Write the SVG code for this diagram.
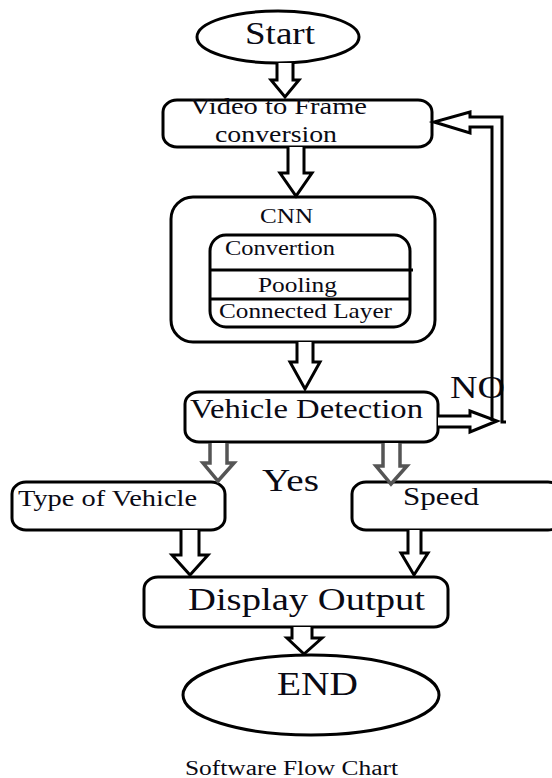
<svg xmlns="http://www.w3.org/2000/svg" width="552" height="778" viewBox="0 0 552 778">
<style>
.box{fill:#fff;stroke:#000;stroke-width:3}
.t{font-family:"Liberation Serif","Times New Roman",serif;fill:#0a0a14}
.arr{fill:#fff;stroke:#000;stroke-width:3;stroke-linejoin:miter}
.garr{fill:#fff;stroke:#555;stroke-width:3.5;stroke-linejoin:miter}
.ln{fill:none;stroke:#000;stroke-width:3}
</style>
<rect width="552" height="778" fill="#fff"/>
<g id="start">
<ellipse class="box" cx="278" cy="37" rx="81" ry="26"/>
<text class="t" transform="translate(245,44) scale(1.19,1)" font-size="31" textLength="58.8" lengthAdjust="spacingAndGlyphs">Start</text>
</g>
<g id="video">
<rect class="box" x="163" y="100" width="269" height="47" rx="14" ry="12"/>
<text class="t" transform="translate(190,114) scale(1.175,1)" font-size="24" textLength="150.6" lengthAdjust="spacingAndGlyphs">Video to Frame</text>
<text class="t" transform="translate(215,142) scale(1.16,1)" font-size="24" textLength="105.2" lengthAdjust="spacingAndGlyphs">conversion</text>
</g>
<g id="cnn">
<rect class="box" x="171" y="197" width="264" height="145" rx="22" ry="22"/>
<text class="t" transform="translate(260,223) scale(1.2,1)" font-size="21" textLength="44.2" lengthAdjust="spacingAndGlyphs">CNN</text>
<rect class="box" x="210" y="235" width="200" height="92" rx="16" ry="16"/>
<line class="ln" x1="210" y1="270" x2="413" y2="270"/>
<line class="ln" x1="210" y1="299" x2="410" y2="299"/>
<text class="t" transform="translate(225,255) scale(1.19,1)" font-size="20.5" textLength="92.4" lengthAdjust="spacingAndGlyphs">Convertion</text>
<text class="t" transform="translate(258,292) scale(1.2,1)" font-size="21" textLength="65.8" lengthAdjust="spacingAndGlyphs">Pooling</text>
<text class="t" transform="translate(219,318) scale(1.2,1)" font-size="21" textLength="144.2" lengthAdjust="spacingAndGlyphs">Connected Layer</text>
</g>
<g id="vehicle-detection">
<rect class="box" x="185" y="392" width="253" height="50" rx="14" ry="12"/>
<text class="t" transform="translate(190,418) scale(1.19,1)" font-size="27" textLength="195.8" lengthAdjust="spacingAndGlyphs">Vehicle Detection</text>
</g>
<g id="type">
<rect class="box" x="12" y="482" width="213" height="48" rx="14" ry="12"/>
<text class="t" transform="translate(18,506) scale(1.2,1)" font-size="23" textLength="149.2" lengthAdjust="spacingAndGlyphs">Type of Vehicle</text>
</g>
<g id="speed">
<rect class="box" x="352" y="482" width="210" height="48" rx="14" ry="12"/>
<text class="t" transform="translate(403,505) scale(1.24,1)" font-size="25" textLength="61.3" lengthAdjust="spacingAndGlyphs">Speed</text>
</g>
<g id="display">
<rect class="box" x="144" y="577" width="304" height="50" rx="14" ry="12"/>
<text class="t" transform="translate(188,610) scale(1.21,1)" font-size="32" textLength="195.9" lengthAdjust="spacingAndGlyphs">Display Output</text>
</g>
<g id="end">
<ellipse class="box" cx="311" cy="695" rx="128" ry="40"/>
<text class="t" transform="translate(277,695) scale(1.19,1)" font-size="33" textLength="68.1" lengthAdjust="spacingAndGlyphs">END</text>
</g>
<g id="labels">
<text class="t" transform="translate(450,398) scale(1.19,1)" font-size="32" textLength="46.2" lengthAdjust="spacingAndGlyphs">NO</text>
<text class="t" transform="translate(262,491) scale(1.18,1)" font-size="31" textLength="48.3" lengthAdjust="spacingAndGlyphs">Yes</text>
<text class="t" transform="translate(185,775) scale(1.27,1)" font-size="20" textLength="167.7" lengthAdjust="spacingAndGlyphs">Software Flow Chart</text>
</g>
<g id="connectors">
<path class="arr" d="M277,63 L277,80 L271,80 L285,97 L299,80 L293,80 L293,63"/>
<path class="arr" d="M288,147 L288,173 L280,173 L296,196 L312,173 L304,173 L304,147"/>
<path class="arr" d="M297,342 L297,362 L290,362 L305,389 L320,362 L313,362 L313,342"/>
<path class="garr" d="M210,443 L210,463 L203,463 L218,481 L234,463 L227,463 L227,443"/>
<path class="garr" d="M383,443 L383,466 L376,466 L391,484 L407,466 L400,466 L400,443"/>
<path class="arr" d="M181,530 L181,555 L172,555 L190,575 L208,555 L199,555 L199,530"/>
<path class="arr" d="M408,530 L408,553 L401,553 L414,575 L428,553 L421,553 L421,530"/>
<path class="arr" d="M292,627 L292,638 L287,638 L304,654 L322,638 L312,638 L312,627"/>
<path class="arr" d="M438,416 L470,416 L470,411 L497,421 L470,432 L470,427 L438,427"/>
<path class="ln" d="M492,421 L492,127 L470,127 L470,133 L434,122 L470,112 L470,117 L502,117 L502,422 L506,422"/>
</g>
</svg>
